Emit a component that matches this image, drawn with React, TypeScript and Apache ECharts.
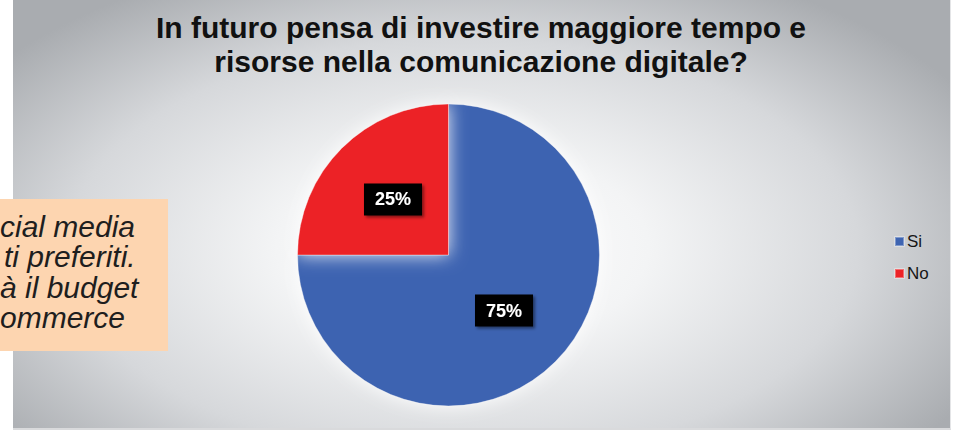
import React, { useEffect, useRef } from "react";
import * as echarts from "echarts";

const titleLines = [
  "In futuro pensa di investire maggiore tempo e",
  "risorse nella comunicazione digitale?",
];
const categories = ["Si", "No"];
const values = [75, 25];
const colors = ["#3e64b1", "#ec2327"];
const noteFragments = ["cial media", "ti preferiti.", "à il budget", "ommerce"];
const noteOffsets = [0, 4, 0, 0];

export default function App() {
  const ref = useRef<HTMLDivElement>(null);
  useEffect(() => {
    if (!ref.current) return;
    const chart = echarts.init(ref.current, undefined, { renderer: "svg" });
    const noteTexts = noteFragments.map((t, i) => ({
      type: "text",
      left: noteOffsets[i],
      top: 211 + i * 30.5,
      z: 101,
      style: {
        text: t,
        font: "italic 30px 'Liberation Sans', Arial, sans-serif",
        fill: "#1e1e1e",
      },
    }));
    chart.setOption({
      animation: false,
      backgroundColor: "transparent",
      title: {
        text: titleLines.join("\n"),
        left: 476,
        textAlign: "center",
        top: 5,
        textStyle: {
          fontFamily: "'Liberation Sans', Arial, sans-serif",
          fontWeight: "bold",
          fontSize: 30,
          lineHeight: 34,
          color: "#111",
        },
      },
      legend: {
        orient: "vertical",
        left: 889,
        top: 228,
        icon: "rect",
        itemWidth: 9,
        itemHeight: 9,
        itemGap: 15,
        data: categories,
        textStyle: {
          fontFamily: "'Liberation Sans', Arial, sans-serif",
          fontSize: 17,
          color: "#161616",
          padding: [0, 0, 0, -2],
        },
      },
      graphic: [
        {
          type: "rect",
          left: 0,
          top: 199,
          z: 100,
          shape: { width: 168, height: 152 },
          style: { fill: "#fdd5b0" },
        },
        ...noteTexts,
      ],
      series: [
        {
          type: "pie",
          center: [448.5, 255],
          radius: 151,
          startAngle: 90,
          clockwise: true,
          color: colors,
          itemStyle: {
            borderColor: "rgba(255,255,255,0.35)",
            borderWidth: 1,
            shadowBlur: 18,
            shadowColor: "rgba(255,255,255,0.9)",
          },
          label: {
            show: true,
            position: "inside",
            formatter: "{d}%",
            color: "#fff",
            fontFamily: "'Liberation Sans', Arial, sans-serif",
            fontWeight: "bold",
            fontSize: 18,
            lineHeight: 18,
            backgroundColor: "#000",
            padding: [7, 11],
            shadowColor: "rgba(0,0,0,0.45)",
            shadowBlur: 3,
            shadowOffsetX: 2,
            shadowOffsetY: 2,
            textShadowColor: "rgba(0,0,0,0.6)",
            textShadowBlur: 2,
          },
          labelLine: { show: false },
          emphasis: { disabled: true },
          data: categories.map((c, i) => ({ name: c, value: values[i] })),
        },
      ],
    });
    return () => chart.dispose();
  }, []);
  return (
    <div
      style={{
        position: "absolute",
        left: 0,
        top: 0,
        width: 955,
        height: 432,
        background: "#ffffff",
        overflow: "hidden",
      }}
    >
      <div
        style={{
          position: "absolute",
          left: 13,
          top: 0,
          width: 937,
          height: 428,
          background:
            "radial-gradient(ellipse 62% 72% at 48% 58%, #ffffff 0%, #f3f4f5 32%, #d6d8db 68%, #a9acb0 100%)",
          borderRight: "1px solid #e4e5e7",
          borderBottom: "2px solid #d9dadc",
        }}
      />
      <div
        ref={ref}
        style={{ position: "absolute", left: 0, top: 0, width: 955, height: 432 }}
      />
    </div>
  );
}
